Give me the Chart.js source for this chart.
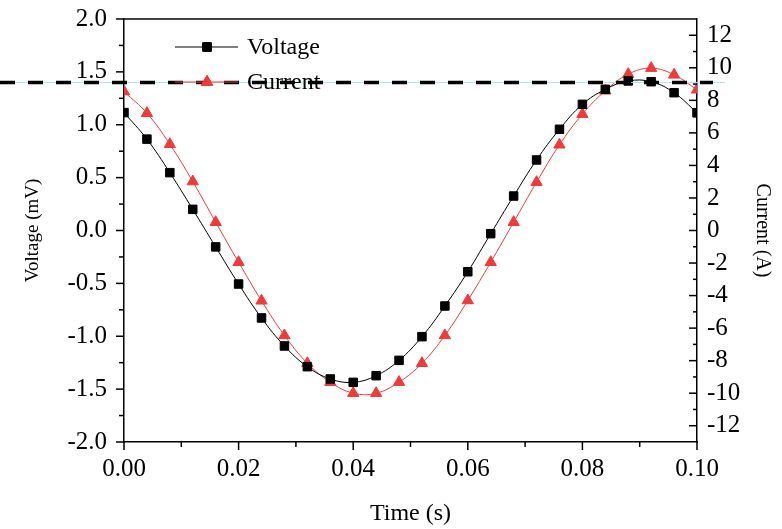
<!DOCTYPE html>
<html>
<head>
<meta charset="utf-8">
<script src="https://cdn.jsdelivr.net/npm/chart.js@4/dist/chart.umd.min.js"></script>
<style>
  html, body { margin: 0; padding: 0; background: #fff; }
  #wrap { width: 782px; height: 529px; position: relative; }
</style>
</head>
<body>
<div id="wrap"><canvas id="myChart"></canvas></div>
<script>
const times = [0, 0.004, 0.008, 0.012, 0.016, 0.020, 0.024, 0.028, 0.032, 0.036, 0.040, 0.044, 0.048,
               0.052, 0.056, 0.060, 0.064, 0.068, 0.072, 0.076, 0.080, 0.084, 0.088, 0.092, 0.096, 0.100];
const voltage = [1.115, 0.864, 0.547, 0.20, -0.155, -0.506, -0.827, -1.092, -1.288, -1.404, -1.436, -1.373, -1.228,
                 -1.004, -0.714, -0.39, -0.03, 0.326, 0.667, 0.957, 1.193, 1.335, 1.414, 1.407, 1.303, 1.114];
const current = [8.54, 7.21, 5.30, 3.01, 0.51, -1.95, -4.32, -6.45, -8.16, -9.32, -10.0, -10.0, -9.32,
                 -8.16, -6.45, -4.30, -1.95, 0.51, 2.97, 5.27, 7.15, 8.59, 9.61, 9.98, 9.57, 8.65];
const thresholdVoltage = 1.4;

const xTicks = [0, 0.02, 0.04, 0.06, 0.08, 0.10];
const voltageTicks = [-2.0, -1.5, -1.0, -0.5, 0.0, 0.5, 1.0, 1.5, 2.0];
const currentTicks = [-12, -10, -8, -6, -4, -2, 0, 2, 4, 6, 8, 10, 12];

const RED = '#ef3a3a';
const FONT = 'Liberation Serif';

const pts = (ys) => times.map((t, i) => ({ x: t, y: ys[i] }));
const setTicks = (vals) => (scale) => { scale.ticks = vals.map(v => ({ value: v })); };
const fixWidth = (w) => (s) => { s.width = w; s.paddingTop = 0; s.paddingBottom = 0; };

// minor + major tick marks, top frame, dashed reference line and the legend
const decorations = {
  id: 'decorations',
  afterDraw(chart) {
    const { ctx, chartArea: a, scales } = chart;
    ctx.save();
    ctx.strokeStyle = '#000';
    ctx.lineWidth = 1.5;
    const seg = (x1, y1, x2, y2) => { ctx.beginPath(); ctx.moveTo(x1, y1); ctx.lineTo(x2, y2); ctx.stroke(); };

    seg(a.left, a.top, a.right, a.top);

    for (let i = 0; i <= 10; i++) {
      const px = scales.x.getPixelForValue(i * 0.01);
      seg(px, a.bottom, px, a.bottom + (i % 2 ? 5 : 8));
    }
    for (let i = 0; i <= 16; i++) {
      const py = scales.y.getPixelForValue(-2 + i * 0.25);
      seg(a.left, py, a.left - (i % 2 ? 5 : 8), py);
    }
    for (let v = -12; v <= 12; v++) {
      const py = scales.y1.getPixelForValue(v);
      seg(a.right, py, a.right - (v % 2 ? 4 : 8), py);
    }

    // reference line
    const ty = scales.y.getPixelForValue(thresholdVoltage);
    ctx.strokeStyle = '#b4e2e4';
    ctx.lineWidth = 1;
    seg(0, ty, a.right + 28, ty);
    ctx.strokeStyle = '#000';
    ctx.lineWidth = 3.5;
    ctx.setLineDash([15, 13]);
    seg(0, ty, a.right + 16, ty);
    ctx.setLineDash([]);

    // legend
    const rows = [
      { label: 'Voltage', color: '#000', style: 'rect', r: 6, y: a.top + 28 },
      { label: 'Current', color: RED, style: 'triangle', r: 6.5, y: a.top + 63 }
    ];
    ctx.font = '24px "' + FONT + '"';
    ctx.textBaseline = 'alphabetic';
    rows.forEach(row => {
      ctx.strokeStyle = row.color;
      ctx.lineWidth = 1;
      seg(a.left + 51, row.y, a.left + 114, row.y);
      ctx.fillStyle = row.color;
      Chart.helpers.drawPoint(ctx, { pointStyle: row.style, radius: row.r, borderWidth: 1 }, a.left + 83, row.y);
      ctx.fill();
      ctx.stroke();
      ctx.fillStyle = '#000';
      ctx.fillText(row.label, a.left + 123, row.y + 7);
    });
    ctx.restore();
  }
};

new Chart(document.getElementById('myChart'), {
  type: 'line',
  data: {
    datasets: [
      {
        label: 'Voltage',
        data: pts(voltage),
        yAxisID: 'y',
        borderColor: '#000',
        backgroundColor: '#000',
        borderWidth: 1,
        pointStyle: 'rect',
        pointRadius: 6,
        pointBorderWidth: 1,
        tension: 0.4,
        clip: 0
      },
      {
        label: 'Current',
        data: pts(current),
        yAxisID: 'y1',
        borderColor: RED,
        backgroundColor: RED,
        borderWidth: 1,
        pointStyle: 'triangle',
        pointRadius: 6.5,
        pointBorderWidth: 1,
        tension: 0.4,
        clip: 0
      }
    ]
  },
  options: {
    responsive: true,
    maintainAspectRatio: false,
    animation: false,
    layout: { padding: { top: 19, left: 0, right: 0, bottom: 0 } },
    plugins: { legend: { display: false }, tooltip: { enabled: false } },
    scales: {
      x: {
        type: 'linear',
        min: 0,
        max: 0.1,
        afterBuildTicks: setTicks(xTicks),
        afterFit: (s) => { s.height = 87; s.paddingLeft = 0; s.paddingRight = 0; },
        grid: { display: false, drawTicks: false },
        border: { display: true, color: '#000', width: 1.5 },
        ticks: {
          padding: 12,
          color: '#000',
          font: { family: FONT, size: 25 },
          callback: (v) => v.toFixed(2)
        },
        title: {
          display: true,
          text: 'Time (s)',
          color: '#000',
          font: { family: FONT, size: 24 },
          padding: { top: 0, bottom: 1 }
        }
      },
      y: {
        position: 'left',
        min: -2,
        max: 2,
        afterBuildTicks: setTicks(voltageTicks),
        afterFit: fixWidth(124),
        grid: { display: false, drawTicks: false },
        border: { display: true, color: '#000', width: 1.5 },
        ticks: {
          padding: 17,
          color: '#000',
          font: { family: FONT, size: 25 },
          callback: (v) => v.toFixed(1)
        },
        title: {
          display: true,
          text: 'Voltage (mV)',
          color: '#000',
          font: { family: FONT, size: 19 },
          padding: { top: 22, bottom: 0 }
        }
      },
      y1: {
        position: 'right',
        min: -13,
        max: 13,
        afterBuildTicks: setTicks(currentTicks),
        afterFit: fixWidth(85),
        grid: { display: false, drawTicks: false },
        border: { display: true, color: '#000', width: 1.5 },
        ticks: {
          padding: 10,
          color: '#000',
          font: { family: FONT, size: 25 },
          callback: (v) => String(v)
        },
        title: {
          display: true,
          text: 'Current (A)',
          color: '#000',
          font: { family: FONT, size: 20 },
          padding: { top: 8, bottom: 0 }
        }
      }
    }
  },
  plugins: [decorations]
});
</script>
</body>
</html>
